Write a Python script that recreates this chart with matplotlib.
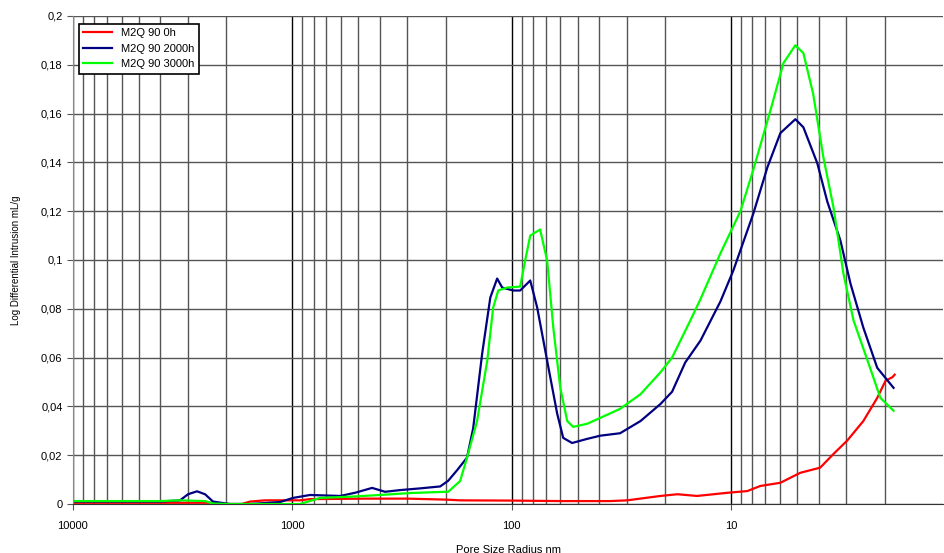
import matplotlib.pyplot as plt
import matplotlib.ticker as ticker

plt.rcParams['font.family'] = ['Liberation Sans', 'DejaVu Sans']

# pore radius (nm) and log differential intrusion (mL/g)
r_0h = [10000, 5495, 2300, 2200, 1700, 1560, 1331, 922, 830, 466, 300, 200, 172, 100,
        60, 35.6, 29.8, 21.0, 17.6, 14.3, 10.4, 8.45, 7.36, 5.97, 4.84, 3.93, 3.42,
        2.96, 2.5, 2.16, 1.98, 1.84, 1.80]
v_0h = [0.0005, 0.0005, 0.0005, 0.0, 0.0, 0.001, 0.0015, 0.0015, 0.002, 0.0022, 0.0022,
        0.0018, 0.0015, 0.0014, 0.0012, 0.0012, 0.0015, 0.0033, 0.004, 0.0033, 0.0046,
        0.0053, 0.0074, 0.0087, 0.0128, 0.0149, 0.0205, 0.026, 0.034, 0.0435, 0.0505,
        0.052, 0.053]

r_2000h = [10000, 7530, 5495, 4010, 3250, 2990, 2720, 2500, 2300, 1923, 1560, 1138, 993,
           830, 605, 518, 433, 378, 323, 262, 212, 195, 177, 160, 150, 136.5, 125.3,
           116.6, 110.6, 98.6, 91.6, 84.1, 82.4, 76.6, 69, 62.1, 58.3, 53.1, 45.3, 39.5,
           32.1, 25.9, 21.0, 18.6, 16.2, 13.8, 11.2, 9.78, 7.93, 6.84, 5.97, 5.1, 4.69,
           4.05, 3.65, 3.18, 2.86, 2.5, 2.16, 1.82]
v_2000h = [0.001, 0.001, 0.001, 0.001, 0.0015, 0.004, 0.0052, 0.004, 0.001, 0.0, 0.0,
           0.0008, 0.0025, 0.0037, 0.0033, 0.0046, 0.0066, 0.005, 0.0057, 0.0064, 0.0072,
           0.0095, 0.014, 0.019, 0.031, 0.0616, 0.0846, 0.0924, 0.0887, 0.0875, 0.0875,
           0.0908, 0.0916, 0.0805, 0.0587, 0.037, 0.0271, 0.025, 0.0267, 0.028, 0.029,
           0.034, 0.041, 0.046, 0.058, 0.067, 0.083, 0.0957, 0.119, 0.138, 0.152, 0.1577,
           0.1544, 0.1396, 0.124, 0.108, 0.0903, 0.0723, 0.0558, 0.0476]

r_3000h = [10000, 5495, 4010, 3250, 2500, 2300, 1923, 922, 748, 546, 398, 290, 201, 195,
           172, 160, 144, 129.4, 121.6, 115.3, 105, 91.6, 86.9, 82.4, 74.3, 69, 64.7,
           60.1, 55.9, 52.5, 45.3, 39.5, 32.1, 25.9, 21.0, 18.6, 15.4, 13.8, 11.2, 9.08,
           7.93, 6.64, 5.78, 5.1, 4.69, 4.23, 3.8, 3.42, 3.08, 2.77, 2.39, 2.09, 1.82]
v_3000h = [0.0012, 0.0012, 0.0012, 0.0015, 0.0012, 0.0002, 0.0, 0.0, 0.0025, 0.003,
           0.0037, 0.0045, 0.005, 0.005, 0.0094, 0.019, 0.034, 0.0587, 0.0805, 0.0875,
           0.0887, 0.0891, 0.0998, 0.11, 0.1125, 0.0998, 0.0723, 0.0476, 0.034, 0.0316,
           0.0329, 0.0353, 0.039, 0.045, 0.054, 0.06, 0.075, 0.084, 0.1027, 0.12, 0.137,
           0.161, 0.1807, 0.188, 0.1848, 0.168, 0.142, 0.1216, 0.0944, 0.0752, 0.0587,
           0.0435, 0.0382]

fig = plt.figure(figsize=(9.45, 5.53), dpi=100)
ax = fig.add_axes([0.0772, 0.0886, 0.921, 0.8825])

ax.plot(r_0h, v_0h, color='#ff0000', lw=1.6, label='M2Q 90 0h')
ax.plot(r_2000h, v_2000h, color='#000080', lw=1.6, label='M2Q 90 2000h')
ax.plot(r_3000h, v_3000h, color='#00ff00', lw=1.6, label='M2Q 90 3000h')

ax.set_xscale('log')
ax.set_xlim(10000, 1.08)
ax.set_ylim(0, 0.2)

ax.yaxis.set_major_locator(ticker.MultipleLocator(0.02))
ax.yaxis.set_major_formatter(ticker.FuncFormatter(
    lambda v, p: '0' if abs(v) < 1e-9 else f'{v:.2f}'.rstrip('0').replace('.', ',')))
ax.xaxis.set_major_locator(ticker.LogLocator(base=10))
ax.xaxis.set_major_formatter(ticker.FuncFormatter(lambda v, p: f'{v:.0f}'))
ax.xaxis.set_minor_locator(ticker.LogLocator(base=10, subs=range(2, 10)))
ax.xaxis.set_minor_formatter(ticker.NullFormatter())

ax.grid(True, which='major', axis='x', color='black', lw=1)
ax.grid(True, which='minor', axis='x', color='#555555', lw=1)
ax.grid(True, which='major', axis='y', color='#555555', lw=1)
ax.set_axisbelow(True)

for s in ['top', 'right']:
    ax.spines[s].set_visible(False)
ax.spines['left'].set_color('#888888')
ax.spines['bottom'].set_color('#333333')
ax.tick_params(axis='both', which='major', labelsize=8, length=4, color='#555555')
ax.tick_params(axis='x', which='minor', length=0)
ax.tick_params(axis='x', pad=8)

ax.set_xlabel('Pore Size Radius nm', fontsize=8, labelpad=10)
ax.set_ylabel('Log Differential Intrusion mL/g', fontsize=7, labelpad=14)

leg = ax.legend(loc='upper left', bbox_to_anchor=(0.007, 0.984), fontsize=8,
                fancybox=False, framealpha=1, edgecolor='black', borderpad=0.4,
                handlelength=2.6, labelspacing=0.5, borderaxespad=0)
leg.get_frame().set_linewidth(1.2)

plt.savefig('out.png', dpi=100)
